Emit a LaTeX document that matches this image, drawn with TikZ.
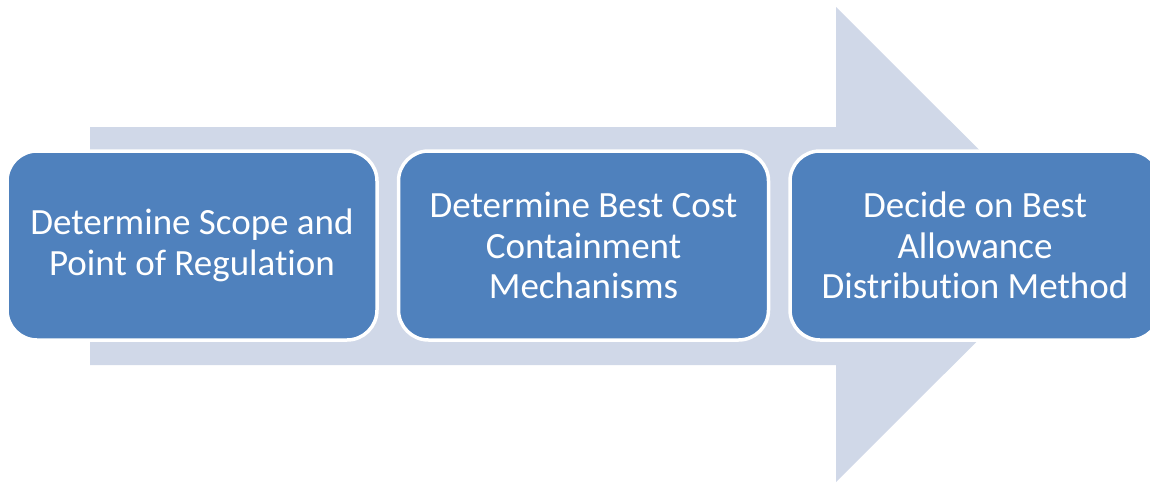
\documentclass[tikz,border=0pt]{standalone}
\usepackage{fontspec}
\setmainfont[Ligatures=NoCommon]{Carlito}
\usetikzlibrary{positioning}

\definecolor{stepblue}{HTML}{4F81BD}
\definecolor{arrowgrey}{HTML}{D0D8E8}

\tikzset{
  stage/.style={rectangle, rounded corners=30pt, fill=stepblue, draw=white,
    line width=3.5pt, minimum width=370pt, minimum height=189pt,
    text=white, align=center, inner sep=0pt,
    font=\fontsize{37pt}{40.5pt}\selectfont},
}

\begin{document}
\begin{tikzpicture}[x=1pt, y=-1pt]
    \useasboundingbox (0,0) rectangle (1150,482);
    \clip (0,0) rectangle (1150,482);

    % background arrow
    \fill[arrowgrey] (90,127) -- (836,127) -- (836,7) -- (1074,244.5)
        -- (836,482) -- (836,365) -- (90,365) -- cycle;

    \node[stage](S1) at (192,245.5) {Determine Scope and\\Point of Regulation};
    \node[stage, right=18pt of S1](S2) {Determine Best Cost\\Containment\\Mechanisms};
    \node[stage, right=18pt of S2](S3) {Decide on Best\\Allowance\\Distribution Method};
\end{tikzpicture}
\end{document}
